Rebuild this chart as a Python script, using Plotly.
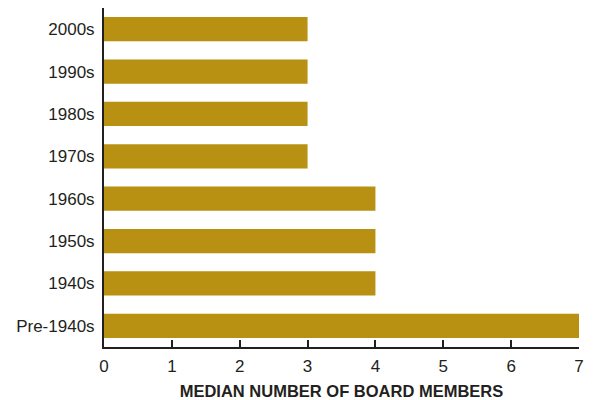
import plotly.graph_objects as go

categories = ["Pre-1940s", "1940s", "1950s", "1960s", "1970s", "1980s", "1990s", "2000s"]
values = [7, 4, 4, 4, 3, 3, 3, 3]
x_ticks = [0, 1, 2, 3, 4, 5, 6, 7]

GOLD = "#B89012"
INK = "#231F20"
FONT = "Liberation Sans"

fig = go.Figure(go.Bar(
    y=categories, x=values, orientation="h",
    marker=dict(color=GOLD, line=dict(width=0)),
    hoverinfo="skip",
))

# page has an 8px body margin; figure is sized to compensate
fig.update_layout(
    width=585, height=392,
    margin=dict(l=96, r=14, t=0, b=53),
    paper_bgcolor="white", plot_bgcolor="white",
    bargap=0.43,
    showlegend=False,
    font=dict(family=FONT, color=INK, size=17),
    xaxis=dict(
        range=[0, 7], tickvals=x_ticks, ticks="inside", ticklen=7, tickwidth=2,
        tickcolor=INK, showline=True, linecolor=INK, linewidth=2,
        showgrid=False, zeroline=False, ticklabelstandoff=3,
        tickfont=dict(size=17, family=FONT, color=INK),
        title=dict(text="MEDIAN NUMBER OF BOARD MEMBERS", standoff=13,
                   font=dict(family=FONT, size=16.5, color=INK, weight="bold")),
        automargin=False,
        fixedrange=True,
    ),
    yaxis=dict(
        categoryorder="array", categoryarray=categories,
        showline=True, linecolor=INK, linewidth=2, ticks="",
        showgrid=False, zeroline=False, ticklabelstandoff=4,
        tickfont=dict(size=17, family=FONT, color=INK),
        automargin=False,
        fixedrange=True,
    ),
)

fig.write_html("out.html")
